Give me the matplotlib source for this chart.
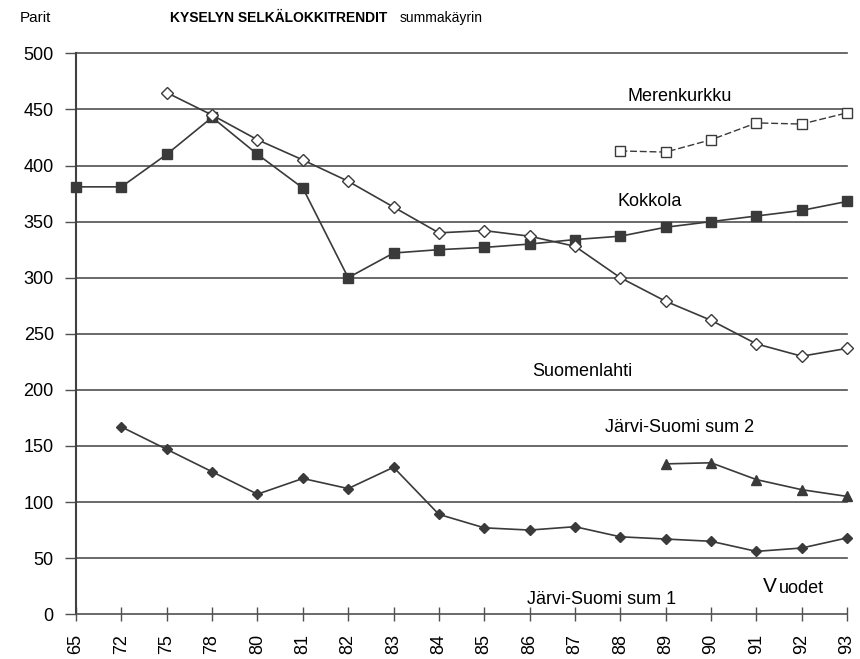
import numpy as np
import matplotlib
matplotlib.use("Agg")
import matplotlib.pyplot as plt

plt.rcParams['font.family'] = ['Liberation Sans', 'DejaVu Sans']

years = ["65", "72", "75", "78", "80", "81", "82", "83", "84", "85",
         "86", "87", "88", "89", "90", "91", "92", "93"]
nan = np.nan

# pairs per year
kokkola = [381, 381, 410, 443, 410, 380, 300, 322, 325, 327,
           330, 334, 337, 345, 350, 355, 360, 368]
suomenlahti = [nan, nan, 465, 445, 423, 405, 386, 363, 340, 342,
               337, 328, 300, 279, 262, 241, 230, 237]
merenkurkku = [nan, nan, nan, nan, nan, nan, nan, nan, nan, nan,
               nan, nan, 413, 412, 423, 438, 437, 447]
jarvi1 = [nan, 167, 147, 127, 107, 121, 112, 131, 89, 77,
          75, 78, 69, 67, 65, 56, 59, 68]
jarvi2 = [nan, nan, nan, nan, nan, nan, nan, nan, nan, nan,
          nan, nan, nan, 134, 135, 120, 111, 105]

x = np.arange(len(years))
col = "#3a3a3a"

fig = plt.figure(figsize=(8.6, 6.59), dpi=100)
ax = fig.add_axes([0.0884, 0.068, 0.8966, 0.851])

for v in range(50, 501, 50):
    ax.axhline(v, color="#505050", linewidth=1.2, zorder=1, clip_on=False)

ax.plot(x, kokkola, color=col, marker="s", markersize=6.5, linewidth=1.2,
        markerfacecolor=col, markeredgecolor=col, clip_on=False, zorder=3)
ax.plot(x, suomenlahti, color=col, marker="D", markersize=6, linewidth=1.2,
        markerfacecolor="white", markeredgecolor=col, clip_on=False, zorder=4)
ax.plot(x, merenkurkku, color=col, marker="s", markersize=7, linewidth=1.0,
        linestyle=(0, (5, 2)), markerfacecolor="white", markeredgecolor=col,
        clip_on=False, zorder=3)
ax.plot(x, jarvi1, color=col, marker="D", markersize=5, linewidth=1.2,
        markerfacecolor=col, markeredgecolor=col, clip_on=False, zorder=3)
ax.plot(x, jarvi2, color=col, marker="^", markersize=6.5, linewidth=1.2,
        markerfacecolor=col, markeredgecolor=col, clip_on=False, zorder=3)

ax.set_xlim(0, len(years) - 1)
ax.set_ylim(0, 500)
ax.set_xticks(x)
ax.set_xticklabels(years, rotation=90, fontsize=13)
ax.set_yticks(range(0, 501, 50))
ax.tick_params(axis="y", labelsize=13, length=8, width=1, color="#505050", pad=8)
ax.tick_params(axis="x", direction="inout", length=10, width=1, color="#505050", pad=9)

for s in ["top", "right"]:
    ax.spines[s].set_visible(False)
ax.spines["left"].set_color("#404040")
ax.spines["left"].set_linewidth(1.5)
ax.spines["bottom"].set_color("#505050")
ax.spines["bottom"].set_linewidth(1.2)

fs = 13
ax.text(13.3, 462, "Merenkurkku", fontsize=fs, ha="center", va="center")
ax.text(12.65, 368, "Kokkola", fontsize=fs, ha="center", va="center")
ax.text(11.16, 216, "Suomenlahti", fontsize=fs, ha="center", va="center")
ax.text(13.3, 166, "Järvi-Suomi sum 2", fontsize=fs, ha="center", va="center")
ax.text(11.58, 13, "Järvi-Suomi sum 1", fontsize=fs, ha="center", va="center")
ax.text(15.15, 25, "V", fontsize=15, ha="left", va="center")
ax.text(15.5, 23, "uodet", fontsize=fs, ha="left", va="center")

fig.text(0.023, 0.972, "Parit", fontsize=11, ha="left", va="center")
fig.text(0.198, 0.972, "KYSELYN SELKÄLOKKITRENDIT", fontsize=10,
         fontweight="bold", ha="left", va="center")
fig.text(0.465, 0.972, "summakäyrin", fontsize=10, ha="left", va="center")

fig.savefig("out.png", dpi=100)
